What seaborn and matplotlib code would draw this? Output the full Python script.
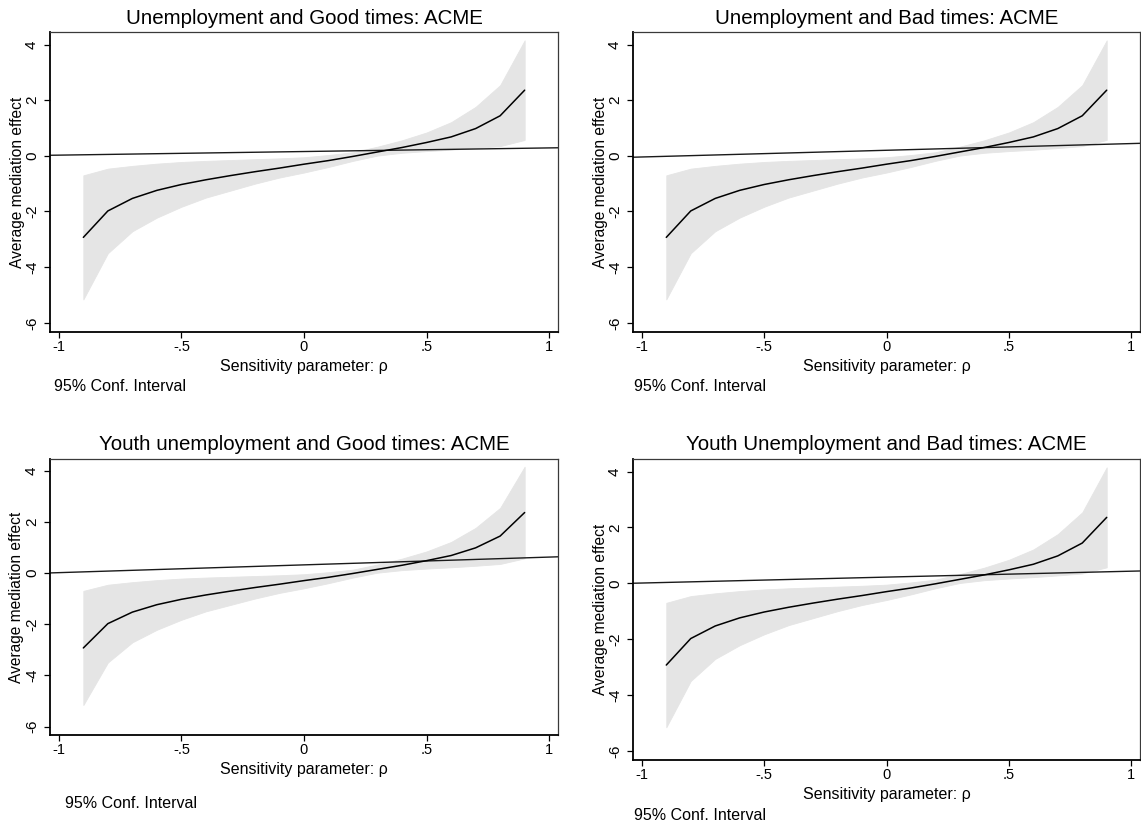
import numpy as np
import matplotlib
matplotlib.use("Agg")
import matplotlib.pyplot as plt
import seaborn as sns

# ---------------- data ----------------
rho = [-0.9, -0.8, -0.7, -0.6, -0.5, -0.4, -0.3, -0.2, -0.1, 0.0,
       0.1, 0.2, 0.3, 0.4, 0.5, 0.6, 0.7, 0.8, 0.9]
acme_mean = [-2.93, -1.98, -1.53, -1.24, -1.03, -0.86, -0.71, -0.57, -0.44, -0.30,
             -0.17, -0.02, 0.14, 0.30, 0.48, 0.68, 0.98, 1.44, 2.36]
ci_upper = [-0.70, -0.46, -0.36, -0.28, -0.22, -0.18, -0.15, -0.12, -0.09, -0.05,
            0.03, 0.13, 0.33, 0.56, 0.84, 1.21, 1.76, 2.54, 4.15]
ci_lower = [-5.16, -3.50, -2.71, -2.22, -1.83, -1.50, -1.25, -1.00, -0.78, -0.60,
            -0.40, -0.18, 0.01, 0.11, 0.17, 0.22, 0.28, 0.35, 0.57]

titles = ["Unemployment and Good times: ACME",
          "Unemployment and Bad times: ACME",
          "Youth unemployment and Good times: ACME",
          "Youth Unemployment and Bad times: ACME"]
# thin reference line: value at rho = -1 and rho = 1 for each panel
ref_at_minus1 = [0.025, -0.041, 0.011, 0.008]
ref_at_plus1 = [0.285, 0.441, 0.619, 0.432]

xticks = [-1, -0.5, 0, 0.5, 1]
xticklabels = ["-1", "-.5", "0", ".5", "1"]
yticks = [4, 2, 0, -2, -4, -6]
yticklabels = ["4", "2", "0", "-2", "-4", "-6"]

xlabel = "Sensitivity parameter: \u03c1"
ylabel = "Average mediation effect"
note = "95% Conf. Interval"

# ---------------- style ----------------
sns.set_theme(style="white")
plt.rcParams["font.family"] = ["Liberation Sans", "DejaVu Sans"]
plt.rcParams["axes.unicode_minus"] = False

W, H = 1141, 827
fig = plt.figure(figsize=(W / 100, H / 100), dpi=100)
fig.patch.set_facecolor("white")

# pixel layout: (left, right, top, bottom) of plot area, text positions
layout = [
    dict(box=(50, 558, 32, 332), title_y=19, xlab_y=366.5, ylab_x=18.0, note_x=53.5, note_y=387),
    dict(box=(633, 1140, 32, 332), title_y=19, xlab_y=366.5, ylab_x=601.0, note_x=634.5, note_y=387),
    dict(box=(50, 558, 459, 735), title_y=445, xlab_y=769.5, ylab_x=17.0, note_x=65, note_y=804),
    dict(box=(633, 1140, 459, 760), title_y=445, xlab_y=794, ylab_x=601.0, note_x=634.5, note_y=815),
]

fill_color = "#e5e5e5"

for i, lay in enumerate(layout):
    L, R, T, B = lay["box"]
    ax = fig.add_axes([L / W, 1 - B / H, (R - L) / W, (B - T) / H])
    ax.set_facecolor("white")

    ax.fill_between(rho, ci_lower, ci_upper, color=fill_color, linewidth=0.6,
                    edgecolor=fill_color, zorder=1)
    sns.lineplot(x=rho, y=acme_mean, ax=ax, color="black", linewidth=1.1,
                 zorder=3, legend=False)
    ax.axline((-1, ref_at_minus1[i]), (1, ref_at_plus1[i]), color="#1a1a1a",
              linewidth=1.0, zorder=2)

    ax.set_xlim(-1.036, 1.036)
    ax.set_ylim(-6.33, 4.45)

    ax.set_xticks(xticks, xticklabels)
    ax.set_yticks(yticks, yticklabels)
    ax.tick_params(axis="x", which="major", direction="out", length=4.5, width=0.9,
                   pad=1.5, labelsize=10.5, colors="black", bottom=True)
    ax.tick_params(axis="y", which="major", direction="out", length=4.5, width=0.9,
                   pad=3.5, labelsize=11, colors="black", left=True, labelrotation=90)
    for lab in ax.get_yticklabels():
        lab.set_va("center")
        lab.set_ha("right")

    for side in ["left", "bottom"]:
        ax.spines[side].set_color("black")
        ax.spines[side].set_linewidth(1.3)
    for side in ["top", "right"]:
        ax.spines[side].set_color("#3a3a3a")
        ax.spines[side].set_linewidth(0.9)
        ax.spines[side].set_visible(True)
    ax.grid(False)

    def ax_x(px):
        return (px - L) / (R - L)

    def ax_y(py):
        return (B - py) / (B - T)

    ax.set_title(titles[i], fontsize=14.8, color="black", y=ax_y(lay["title_y"]),
                 va="center", pad=0)
    ax.set_xlabel(xlabel, fontsize=11.5, color="black", va="center")
    ax.xaxis.set_label_coords(0.5, ax_y(lay["xlab_y"]))
    ax.set_ylabel(ylabel, fontsize=11.2, color="black", va="center")
    ax.yaxis.set_label_coords(ax_x(lay["ylab_x"]), 0.5)
    ax.text(ax_x(lay["note_x"]), ax_y(lay["note_y"]), note, transform=ax.transAxes,
            ha="left", va="center", fontsize=11.5, color="black")

fig.savefig("out.png", dpi=100, facecolor="white")
